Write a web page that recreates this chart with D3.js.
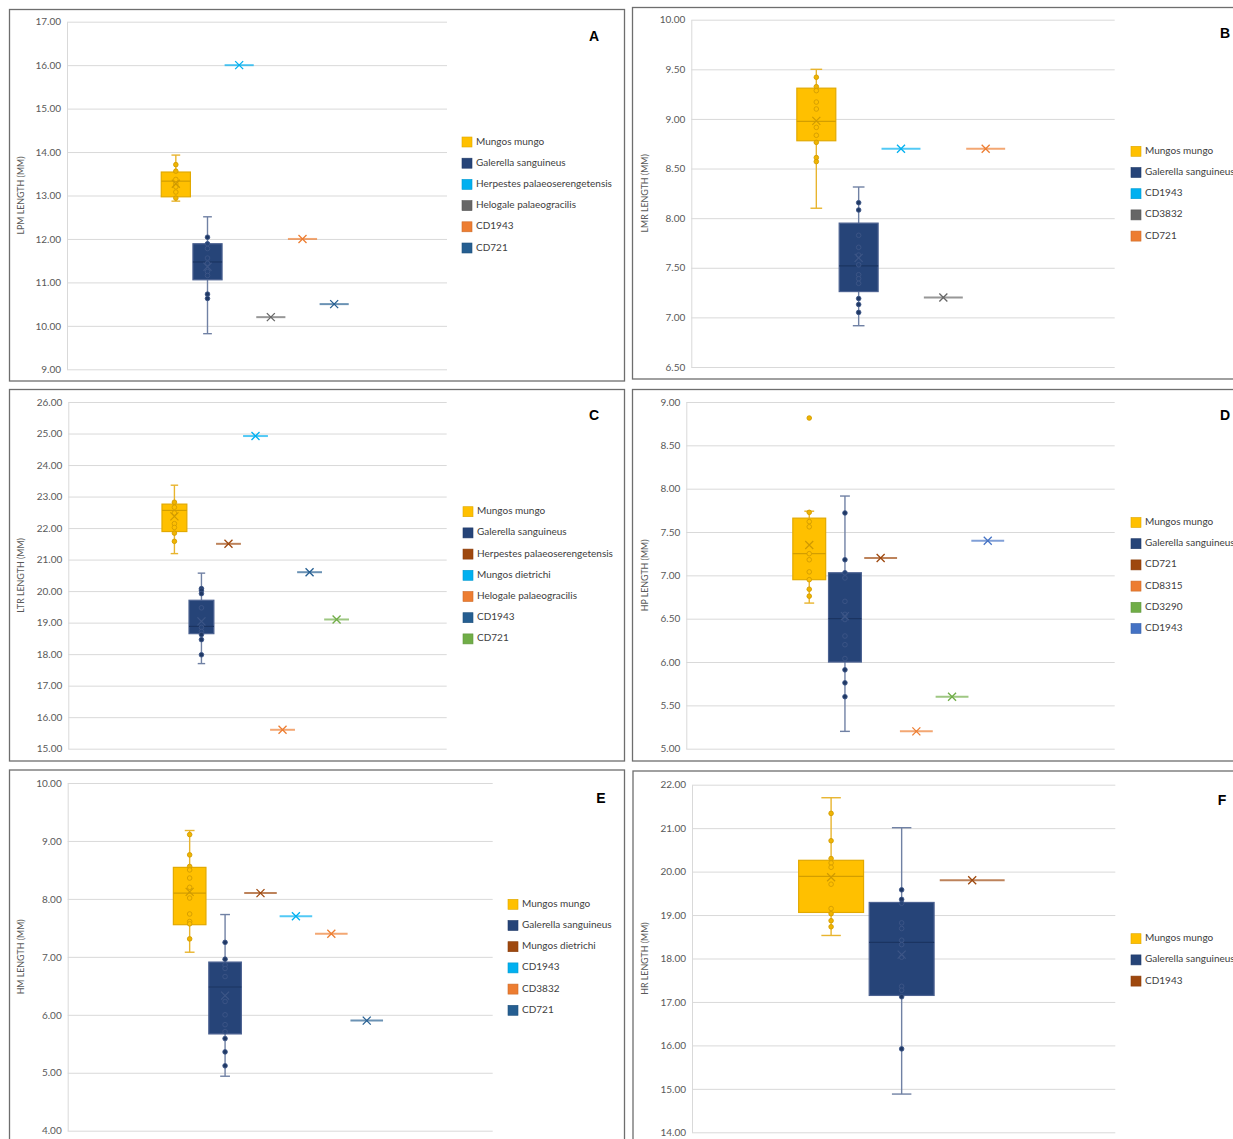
<!DOCTYPE html>
<html>
<head>
<meta charset="utf-8">
<script src="https://cdn.jsdelivr.net/npm/d3@7"></script>
<style>
  html, body { margin: 0; padding: 0; background: #ffffff; }
  svg { display: block; }
</style>
</head>
<body>
<svg id="chart" width="1233" height="1139"></svg>
<script>
// ---------- Panel A: LPM length ----------
const lpmSeries = ["Mungos mungo", "Galerella sanguineus", "Herpestes palaeoserengetensis", "Helogale palaeogracilis", "CD1943", "CD721"];
const lpmTicks = [9, 10, 11, 12, 13, 14, 15, 16, 17];
const lpmMungoBox = [12.87, 12.97, 13.33, 13.54, 13.93];      // low whisker, Q1, median, Q3, high whisker
const lpmMungoMean = 13.27;
const lpmMungoPts = [13.71, 13.56, 13.37, 13.27, 13.20, 13.08, 12.94];
const lpmGalerellaBox = [9.82, 11.06, 11.47, 11.89, 12.51];
const lpmGalerellaMean = 11.36;
const lpmGalerellaPts = [12.04, 11.89, 11.78, 11.56, 11.44, 11.25, 11.16, 10.73, 10.63];
const lpmSingles = [16.0, 10.2, 12.0, 10.5];

// ---------- Panel B: LMR length ----------
const lmrSeries = ["Mungos mungo", "Galerella sanguineus", "CD1943", "CD3832", "CD721"];
const lmrTicks = [6.5, 7, 7.5, 8, 8.5, 9, 9.5, 10];
const lmrMungoBox = [8.10, 8.78, 8.975, 9.31, 9.50];
const lmrMungoMean = 8.98;
const lmrMungoPts = [9.42, 9.325, 9.285, 9.17, 9.10, 8.915, 8.835, 8.764, 8.61, 8.57];
const lmrGalerellaBox = [6.916, 7.26, 7.52, 7.95, 8.314];
const lmrGalerellaMean = 7.60;
const lmrGalerellaPts = [8.156, 8.082, 7.827, 7.706, 7.628, 7.53, 7.43, 7.39, 7.343, 7.19, 7.13, 7.05];
const lmrSingles = [8.70, 7.20, 8.70];

// ---------- Panel C: LTR length ----------
const ltrSeries = ["Mungos mungo", "Galerella sanguineus", "Herpestes palaeoserengetensis", "Mungos dietrichi", "Helogale palaeogracilis", "CD1943", "CD721"];
const ltrTicks = [15, 16, 17, 18, 19, 20, 21, 22, 23, 24, 25, 26];
const ltrMungoBox = [21.19, 21.89, 22.56, 22.76, 23.36];
const ltrMungoMean = 22.37;
const ltrMungoPts = [22.82, 22.66, 22.48, 22.14, 22.02, 21.84, 21.58];
const ltrGalerellaBox = [17.70, 18.65, 18.88, 19.71, 20.57];
const ltrGalerellaMean = 19.04;
const ltrGalerellaPts = [20.08, 20.03, 19.92, 19.47, 18.85, 18.72, 18.62, 18.46, 17.98];
const ltrSingles = [21.5, 24.92, 15.6, 20.6, 19.1];

// ---------- Panel D: HP length ----------
const hpSeries = ["Mungos mungo", "Galerella sanguineus", "CD721", "CD8315", "CD3290", "CD1943"];
const hpTicks = [5, 5.5, 6, 6.5, 7, 7.5, 8, 8.5, 9];
const hpMungoBox = [6.68, 6.95, 7.25, 7.66, 7.74];
const hpMungoMean = 7.35;
const hpMungoPts = [8.815, 7.727, 7.62, 7.56, 7.25, 7.18, 7.04, 6.95, 6.84, 6.76];
const hpGalerellaBox = [5.20, 6.00, 6.50, 7.03, 7.915];
const hpGalerellaMean = 6.53;
const hpGalerellaPts = [7.72, 7.18, 7.03, 6.97, 6.70, 6.55, 6.49, 6.30, 6.20, 6.04, 5.91, 5.76, 5.60];
const hpSingles = [7.2, 5.2, 5.6, 7.4];

// ---------- Panel E: HM length ----------
const hmSeries = ["Mungos mungo", "Galerella sanguineus", "Mungos dietrichi", "CD1943", "CD3832", "CD721"];
const hmTicks = [4, 5, 6, 7, 8, 9, 10];
const hmMungoBox = [7.08, 7.555, 8.10, 8.544, 9.18];
const hmMungoMean = 8.12;
const hmMungoPts = [9.11, 8.76, 8.56, 8.50, 8.36, 8.20, 8.015, 7.74, 7.61, 7.57, 7.31];
const hmGalerellaBox = [4.94, 5.67, 6.48, 6.91, 7.73];
const hmGalerellaMean = 6.33;
const hmGalerellaPts = [7.25, 6.96, 6.86, 6.80, 6.66, 6.23, 6.00, 5.83, 5.71, 5.59, 5.36, 5.12];
const hmSingles = [8.1, 7.7, 7.4, 5.9];

// ---------- Panel F: HR length ----------
const hrSeries = ["Mungos mungo", "Galerella sanguineus", "CD1943"];
const hrTicks = [14, 15, 16, 17, 18, 19, 20, 21, 22];
const hrMungoBox = [18.53, 19.06, 19.89, 20.26, 21.70];
const hrMungoMean = 19.87;
const hrMungoPts = [21.34, 20.71, 20.30, 20.20, 20.10, 19.71, 19.15, 19.03, 18.87, 18.73];
const hrGalerellaBox = [14.88, 17.15, 18.37, 19.29, 21.01];
const hrGalerellaMean = 18.09;
const hrGalerellaPts = [19.58, 19.36, 19.27, 18.82, 18.69, 18.42, 18.32, 18.03, 17.36, 17.27, 17.12, 15.92];
const hrSingles = [19.8];

// ---------- Colours ----------
const GOLD = "#FFC000", NAVY = "#264478", CYAN = "#00B0F0", GREY = "#666666",
      ORANGE = "#ED7D31", STEEL = "#255E91", BROWN = "#9E480E", GREEN = "#70AD47", BLUE = "#4472C4";
const lpmColors = [GOLD, NAVY, CYAN, GREY, ORANGE, STEEL];
const lmrColors = [GOLD, NAVY, CYAN, GREY, ORANGE];
const ltrColors = [GOLD, NAVY, BROWN, CYAN, ORANGE, STEEL, GREEN];
const hpColors  = [GOLD, NAVY, BROWN, ORANGE, GREEN, BLUE];
const hmColors  = [GOLD, NAVY, BROWN, CYAN, ORANGE, STEEL];
const hrColors  = [GOLD, NAVY, BROWN];

const boxStyles = [
  { fill: GOLD, stroke: "#E2A900", median: "#D39E00", whisker: "#E8B42E", pt: "#F0B400", ptStroke: "#D29C00", mean: "#CF9A00" },
  { fill: NAVY, stroke: "#4C6291", median: "#1B3461", whisker: "#7081A4", pt: "#1F3864", ptStroke: "#3D5687", mean: "#3D5687" }
];

const FONT = "Lato, 'Open Sans', 'DejaVu Sans', sans-serif";
const svg = d3.select("#chart");
svg.append("rect").attr("width", 1233).attr("height", 1139).attr("fill", "#ffffff");

function drawPanel(p) {
  const g = svg.append("g");

  // panel frame
  g.append("rect")
    .attr("x", p.frame[0]).attr("y", p.frame[1])
    .attr("width", p.frame[2] - p.frame[0]).attr("height", p.frame[3] - p.frame[1])
    .attr("fill", "none").attr("stroke", "#6e6e6e").attr("stroke-width", 1.3);

  const [left, right, top, bottom] = p.plot;
  const width = right - left;
  const y = d3.scaleLinear().domain(d3.extent(p.ticks)).range([bottom, top]);
  const x = d3.scaleBand().domain(p.series)
    .range([left + width * 0.25 - 2, left + width * 0.75 - 2])
    .paddingInner(0.08).paddingOuter(0.04);

  // gridlines + tick labels
  const axis = d3.axisLeft(y).tickValues(p.ticks).tickFormat(d3.format(".2f"))
    .tickSize(-width).tickSizeOuter(0).tickPadding(6);
  const ag = g.append("g").attr("transform", `translate(${left},0)`).call(axis);
  ag.select(".domain").attr("stroke", "#d9d9d9");
  ag.selectAll(".tick line").attr("stroke", "#d9d9d9").attr("stroke-width", 1);
  ag.selectAll(".tick text").attr("fill", "#595959").style("font-family", FONT).style("font-size", "10px");

  // axis title
  g.append("text")
    .attr("transform", `translate(${p.titleX},${(top + bottom) / 2}) rotate(-90)`)
    .attr("text-anchor", "middle").attr("dominant-baseline", "middle")
    .attr("fill", "#595959").style("font-family", FONT).style("font-size", "8.8px")
    .text(p.title);

  // box series
  p.boxes.forEach((b, i) => {
    const s = boxStyles[i];
    const name = p.series[i];
    const cx = x(name) + x.bandwidth() / 2;
    const bw = x.bandwidth();
    const cap = bw * 0.3;
    const [lo, q1, med, q3, hi] = b.box;
    const bg = g.append("g");
    // whiskers
    bg.selectAll("line.wh").data([[q3, hi], [q1, lo]]).join("line")
      .attr("x1", cx).attr("x2", cx)
      .attr("y1", d => y(d[0])).attr("y2", d => y(d[1]))
      .attr("stroke", s.whisker).attr("stroke-width", 1.4);
    bg.selectAll("line.cap").data([hi, lo]).join("line")
      .attr("x1", cx - cap / 2).attr("x2", cx + cap / 2)
      .attr("y1", d => y(d)).attr("y2", d => y(d))
      .attr("stroke", s.whisker).attr("stroke-width", 1.4);
    // box
    bg.append("rect")
      .attr("x", x(name)).attr("y", y(q3))
      .attr("width", bw).attr("height", y(q1) - y(q3))
      .attr("fill", s.fill).attr("stroke", s.stroke).attr("stroke-width", 1.2);
    // median
    bg.append("line")
      .attr("x1", x(name)).attr("x2", x(name) + bw)
      .attr("y1", y(med)).attr("y2", y(med))
      .attr("stroke", s.median).attr("stroke-width", 1.2);
    // data points
    bg.selectAll("circle").data(b.pts).join("circle")
      .attr("cx", cx).attr("cy", d => y(d)).attr("r", 2.3)
      .attr("fill", d => (d > q3 || d < q1) ? s.pt : s.fill)
      .attr("stroke", s.ptStroke).attr("stroke-width", 0.9);
    // mean marker
    drawCross(bg, cx, y(b.mean), 4, s.mean, 1.2);
  });

  // single-value series
  p.singles.forEach((v, j) => {
    const i = j + p.boxes.length;
    const name = p.series[i];
    const col = p.colors[i];
    const x0 = x(name), bw = x.bandwidth();
    g.append("line")
      .attr("x1", x0).attr("x2", x0 + bw)
      .attr("y1", y(v)).attr("y2", y(v))
      .attr("stroke", col).attr("stroke-opacity", 0.68).attr("stroke-width", 2);
    drawCross(g, x0 + bw / 2, y(v), 4, col, 1.3);
  });

  // legend
  const lg = g.append("g");
  p.series.forEach((name, i) => {
    const yy = p.legendY[i];
    lg.append("rect")
      .attr("x", p.legendX).attr("y", yy - 5).attr("width", 10).attr("height", 10)
      .attr("fill", p.colors[i]).attr("stroke", d3.color(p.colors[i]).darker(0.4)).attr("stroke-width", 0.6);
    lg.append("text")
      .attr("x", p.legendX + 14).attr("y", yy).attr("dominant-baseline", "middle")
      .attr("fill", "#404040").style("font-family", FONT).style("font-size", "10px")
      .text(name);
  });

  // panel letter
  g.append("text")
    .attr("x", p.letterPos[0]).attr("y", p.letterPos[1])
    .attr("text-anchor", "middle").attr("dominant-baseline", "middle")
    .attr("fill", "#000").style("font-family", "'Liberation Sans', Arial, sans-serif")
    .style("font-size", "14px").style("font-weight", "bold")
    .text(p.letter);
}

function drawCross(g, cx, cy, r, col, sw) {
  g.append("path")
    .attr("d", `M${cx - r},${cy - r}L${cx + r},${cy + r}M${cx - r},${cy + r}L${cx + r},${cy - r}`)
    .attr("stroke", col).attr("stroke-width", sw).attr("fill", "none");
}

function rows(y0, n) { return d3.range(n).map(i => y0 + i * 21.2); }

drawPanel({
  frame: [9.5, 9.5, 624.5, 381], plot: [67, 447, 21.7, 369.3], titleX: 22,
  ticks: lpmTicks, title: "LPM LENGTH (MM)", letter: "A", letterPos: [594, 37],
  series: lpmSeries, colors: lpmColors,
  boxes: [{ box: lpmMungoBox, mean: lpmMungoMean, pts: lpmMungoPts },
          { box: lpmGalerellaBox, mean: lpmGalerellaMean, pts: lpmGalerellaPts }],
  singles: lpmSingles, legendX: 462, legendY: rows(142, lpmSeries.length)
});

drawPanel({
  frame: [632.5, 7.5, 1240, 379], plot: [691.3, 1114.7, 19.7, 367], titleX: 645.5,
  ticks: lmrTicks, title: "LMR LENGTH (MM)", letter: "B", letterPos: [1225, 34],
  series: lmrSeries, colors: lmrColors,
  boxes: [{ box: lmrMungoBox, mean: lmrMungoMean, pts: lmrMungoPts },
          { box: lmrGalerellaBox, mean: lmrGalerellaMean, pts: lmrGalerellaPts }],
  singles: lmrSingles, legendX: 1131, legendY: rows(151.3, lmrSeries.length)
});

drawPanel({
  frame: [9.5, 389.5, 624.5, 761], plot: [68.3, 446.7, 402, 748.7], titleX: 22,
  ticks: ltrTicks, title: "LTR LENGTH (MM)", letter: "C", letterPos: [594, 416],
  series: ltrSeries, colors: ltrColors,
  boxes: [{ box: ltrMungoBox, mean: ltrMungoMean, pts: ltrMungoPts },
          { box: ltrGalerellaBox, mean: ltrGalerellaMean, pts: ltrGalerellaPts }],
  singles: ltrSingles, legendX: 463, legendY: rows(511.7, ltrSeries.length)
});

drawPanel({
  frame: [632.5, 389.5, 1240, 761], plot: [686.3, 1114.7, 402, 748.7], titleX: 645.5,
  ticks: hpTicks, title: "HP LENGTH (MM)", letter: "D", letterPos: [1225, 416],
  series: hpSeries, colors: hpColors,
  boxes: [{ box: hpMungoBox, mean: hpMungoMean, pts: hpMungoPts },
          { box: hpGalerellaBox, mean: hpGalerellaMean, pts: hpGalerellaPts }],
  singles: hpSingles, legendX: 1131, legendY: rows(522.5, hpSeries.length)
});

drawPanel({
  frame: [9.5, 770, 624.5, 1150], plot: [67.7, 492.7, 783, 1130.7], titleX: 21.7,
  ticks: hmTicks, title: "HM LENGTH (MM)", letter: "E", letterPos: [601, 799],
  series: hmSeries, colors: hmColors,
  boxes: [{ box: hmMungoBox, mean: hmMungoMean, pts: hmMungoPts },
          { box: hmGalerellaBox, mean: hmGalerellaMean, pts: hmGalerellaPts }],
  singles: hmSingles, legendX: 508, legendY: rows(904.3, hmSeries.length)
});

drawPanel({
  frame: [633, 771, 1240, 1150], plot: [692, 1115.3, 784.7, 1132.3], titleX: 646,
  ticks: hrTicks, title: "HR LENGTH (MM)", letter: "F", letterPos: [1222, 801],
  series: hrSeries, colors: hrColors,
  boxes: [{ box: hrMungoBox, mean: hrMungoMean, pts: hrMungoPts },
          { box: hrGalerellaBox, mean: hrGalerellaMean, pts: hrGalerellaPts }],
  singles: hrSingles, legendX: 1131, legendY: rows(938.7, hrSeries.length)
});
</script>
</body>
</html>
